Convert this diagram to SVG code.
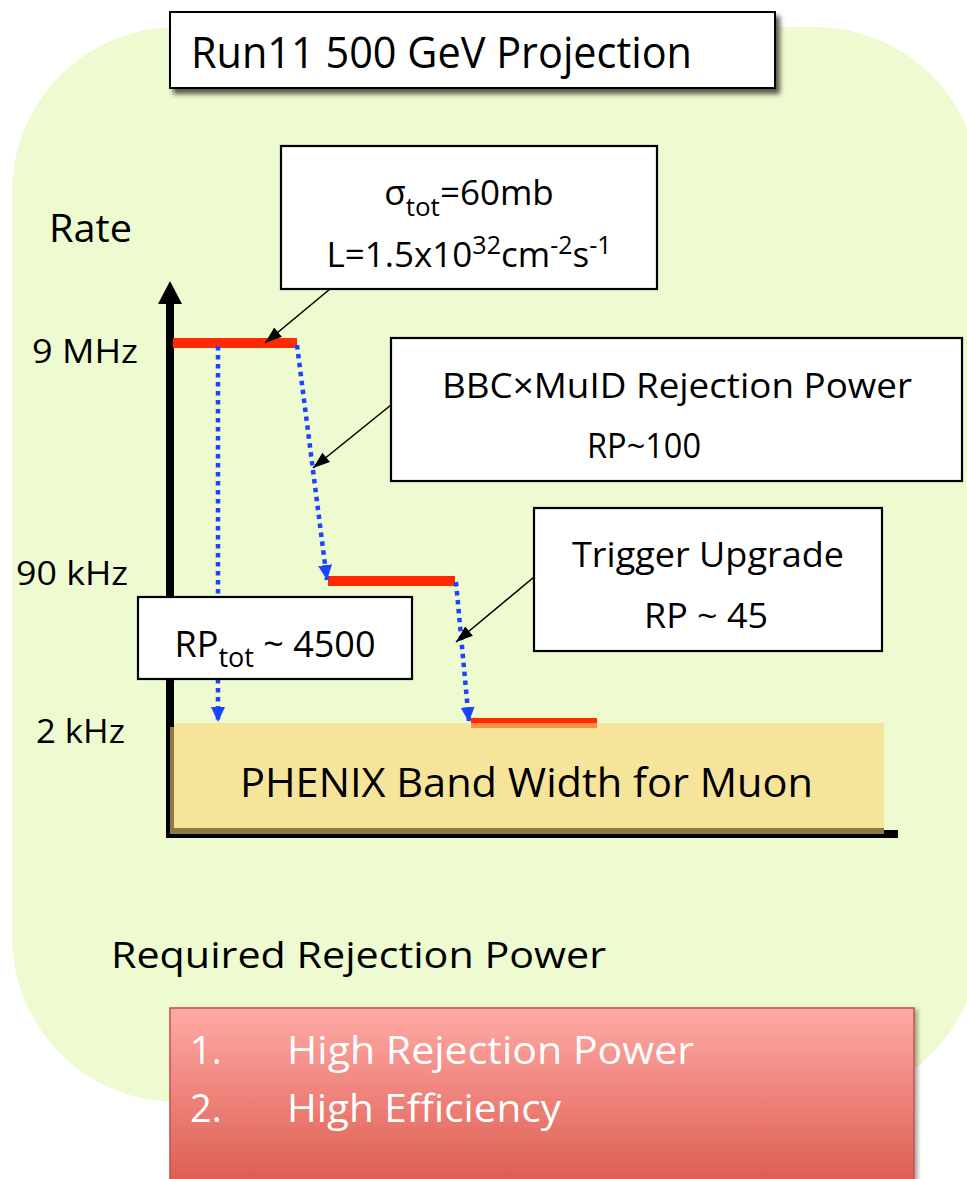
<svg xmlns="http://www.w3.org/2000/svg" width="967" height="1179" viewBox="0 0 967 1179">
<style>
text{font-family:"Open Sans","Noto Sans","Liberation Sans",sans-serif;fill:#000}
.box{fill:#fff;stroke:#000;stroke-width:2.2}
.red{fill:#FF2A00}
.blue{fill:none;stroke:#1A44FF;stroke-width:4.5;stroke-dasharray:4.5 4.5}
.call{fill:none;stroke:#000;stroke-width:1.6}
.wt{fill:#fff}
</style>
<defs>
<marker id="ba" markerUnits="userSpaceOnUse" markerWidth="16" markerHeight="16" refX="15" refY="7" orient="auto" viewBox="0 0 16 14">
<path d="M0,0 L15,7 L0,14 z" fill="#1A44FF"/>
</marker>
<marker id="ka" markerUnits="userSpaceOnUse" markerWidth="18" markerHeight="14" refX="17" refY="6" orient="auto" viewBox="0 0 18 12">
<path d="M0,0 L17,6 L0,12 z" fill="#000"/>
</marker>
<filter id="sh" x="-10%" y="-20%" width="130%" height="160%">
<feDropShadow dx="4" dy="5" stdDeviation="2.5" flood-color="#000" flood-opacity="0.65"/>
</filter>
<filter id="sh2" x="-10%" y="-10%" width="130%" height="130%">
<feDropShadow dx="3" dy="2" stdDeviation="2" flood-color="#000" flood-opacity="0.35"/>
</filter>
<linearGradient id="rg" x1="0" y1="0" x2="0" y2="1">
<stop offset="0" stop-color="#FFAAA6"/>
<stop offset="1" stop-color="#DA5649"/>
</linearGradient>
</defs>

<rect id="background" x="12" y="27" width="968" height="1075" rx="165" ry="165" fill="#EEFAD0"/>

<g id="title">
<rect x="170" y="12" width="605" height="76" fill="#fff" stroke="#000" stroke-width="2" filter="url(#sh)"/>
<text x="191" y="68" font-size="43" textLength="501" lengthAdjust="spacingAndGlyphs">Run11 500 GeV Projection</text>
</g>

<g id="axis-labels">
<text x="49" y="242" font-size="38" textLength="83" lengthAdjust="spacingAndGlyphs">Rate</text>
<text x="32" y="363" font-size="33" textLength="106" lengthAdjust="spacingAndGlyphs">9 MHz</text>
<text x="16" y="585" font-size="33" textLength="112" lengthAdjust="spacingAndGlyphs">90 kHz</text>
<text x="36" y="743" font-size="33" textLength="89" lengthAdjust="spacingAndGlyphs">2 kHz</text>
</g>

<g id="axes">
<rect x="166" y="300" width="8" height="538" fill="#000"/>
<polygon points="158,304 170,281 182,304" fill="#000"/>
<rect x="166" y="830" width="732" height="8" fill="#000"/>
</g>

<g id="level-9MHz">
<rect class="red" x="173" y="338" width="124" height="10"/>
</g>
<g id="level-90kHz">
<rect class="red" x="328" y="576" width="127" height="10"/>
</g>

<g id="band">
<rect x="170" y="727" width="714" height="107" fill="#8C7B45"/>
<rect x="174" y="723" width="710" height="105" fill="#F7E49B"/>
<text x="240" y="797" font-size="40" textLength="573" lengthAdjust="spacingAndGlyphs">PHENIX Band Width for Muon</text>
</g>

<g id="level-2kHz">
<rect class="red" x="471" y="718" width="126" height="5"/>
<rect x="471" y="723" width="126" height="5" fill="#FF8A4A"/>
</g>

<g id="connectors">
<line class="blue" x1="218" y1="346" x2="218" y2="722" marker-end="url(#ba)"/>
<line class="blue" x1="297" y1="345" x2="327" y2="580" marker-end="url(#ba)"/>
<line class="blue" x1="456" y1="582" x2="469" y2="722" marker-end="url(#ba)"/>
<line class="call" x1="330" y1="289" x2="265" y2="343" marker-end="url(#ka)"/>
<line class="call" x1="391" y1="405" x2="313" y2="468" marker-end="url(#ka)"/>
<line class="call" x1="534" y1="577" x2="456" y2="642" marker-end="url(#ka)"/>
</g>

<g id="sigma-box">
<rect class="box" x="281" y="146" width="376" height="143"/>
<text x="469" y="205" font-size="35" text-anchor="middle">σ<tspan font-size="26" dy="11">tot</tspan><tspan dy="-11">=60mb</tspan></text>
<text x="469" y="267" font-size="35" text-anchor="middle">L=1.5x10<tspan font-size="25" dy="-13">32</tspan><tspan dy="13">cm</tspan><tspan font-size="25" dy="-13">-2</tspan><tspan dy="13">s</tspan><tspan font-size="25" dy="-13">-1</tspan></text>
</g>

<g id="bbc-box">
<rect class="box" x="391" y="338" width="571" height="143"/>
<text x="442" y="398" font-size="35" textLength="470" lengthAdjust="spacingAndGlyphs">BBC×MuID Rejection Power</text>
<text x="587" y="458" font-size="35" textLength="114" lengthAdjust="spacingAndGlyphs">RP~100</text>
</g>

<g id="trigger-box">
<rect class="box" x="534" y="508" width="348" height="143"/>
<text x="572" y="567" font-size="35" textLength="272" lengthAdjust="spacingAndGlyphs">Trigger Upgrade</text>
<text x="644" y="628" font-size="35" textLength="124" lengthAdjust="spacingAndGlyphs">RP ~ 45</text>
</g>

<g id="rptot-box">
<rect class="box" x="138" y="597" width="274" height="82"/>
<text x="275" y="657" font-size="36" text-anchor="middle">RP<tspan font-size="27" dy="10">tot</tspan><tspan dy="-10"> ~ 4500</tspan></text>
</g>

<g id="required">
<text x="111" y="968" font-size="37" textLength="495" lengthAdjust="spacingAndGlyphs">Required Rejection Power</text>
</g>

<g id="requirements-box">
<rect x="170" y="1008" width="744" height="190" fill="url(#rg)" stroke="#C5504A" stroke-width="1.5" filter="url(#sh2)"/>
<text class="wt" x="190" y="1064" font-size="38">1.</text>
<text class="wt" x="287" y="1064" font-size="38" textLength="407" lengthAdjust="spacingAndGlyphs">High Rejection Power</text>
<text class="wt" x="190" y="1122" font-size="38">2.</text>
<text class="wt" x="287" y="1122" font-size="38" textLength="274" lengthAdjust="spacingAndGlyphs">High Efficiency</text>
</g>
</svg>
